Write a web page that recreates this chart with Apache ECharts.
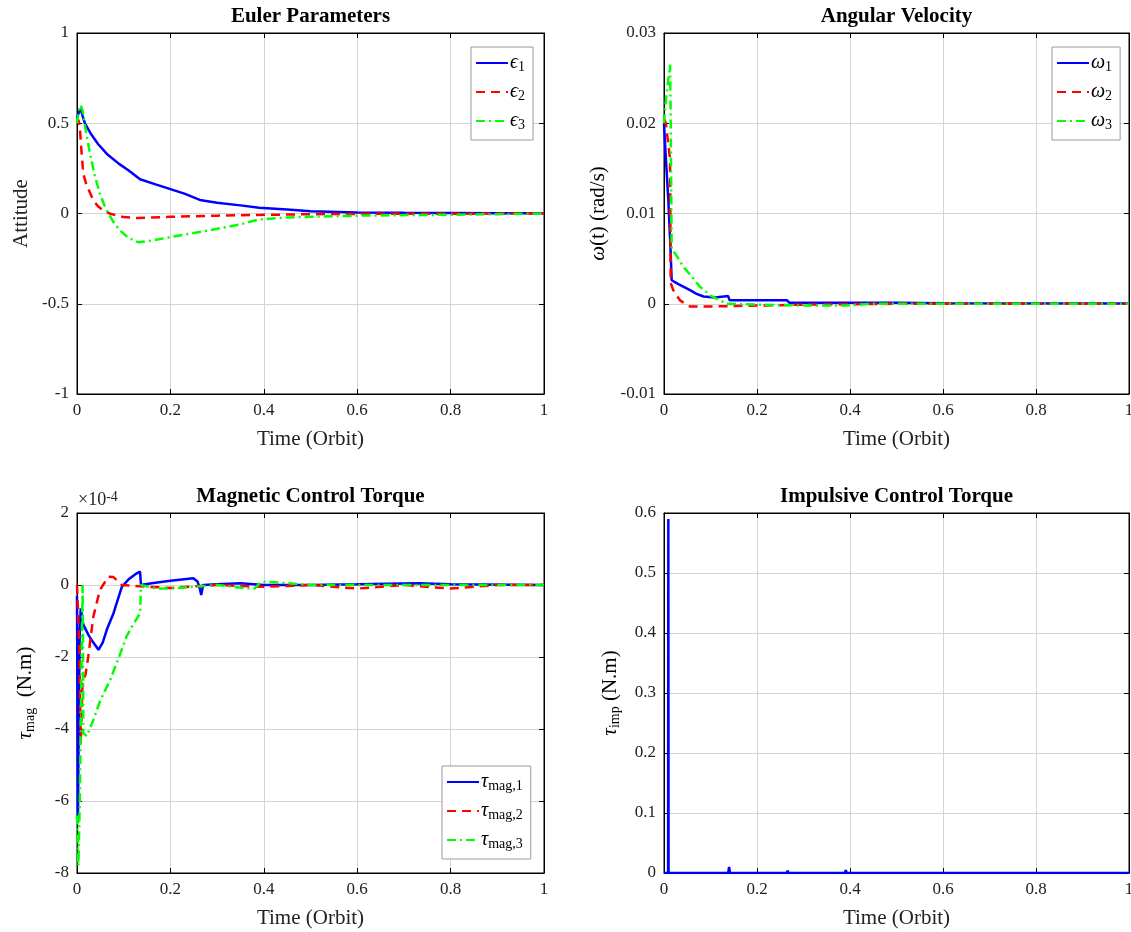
<!DOCTYPE html>
<html>
<head>
<meta charset="utf-8">
<script src="https://cdn.jsdelivr.net/npm/echarts@6/dist/echarts.min.js"></script>
<style>
  html, body { margin: 0; padding: 0; background: #fff; }
  #main { width: 1131px; height: 932px; }
</style>
</head>
<body>
<div id="main"></div>
<script>
// ---- data: [time (orbit), value] ----
var eps1 = [[0,0.53],[0.004,0.56],[0.008,0.58],[0.012,0.54],[0.017,0.5],[0.03,0.44],[0.045,0.385],[0.064,0.33],[0.09,0.275],[0.11,0.24],[0.135,0.19],[0.17,0.16],[0.2,0.135],[0.23,0.11],[0.263,0.075],[0.3,0.06],[0.35,0.045],[0.39,0.032],[0.45,0.022],[0.5,0.013],[0.6,0.006],[0.7,0.004],[0.8,0.003],[0.9,0.002],[1,0.001]];
var eps2 = [[0,0.5],[0.003,0.52],[0.006,0.48],[0.01,0.33],[0.0135,0.22],[0.02,0.16],[0.035,0.072],[0.045,0.04],[0.056,0.017],[0.07,0],[0.085,-0.011],[0.1,-0.02],[0.128,-0.025],[0.16,-0.022],[0.2,-0.018],[0.3,-0.012],[0.39,-0.008],[0.5,-0.004],[0.6,-0.002],[0.8,-0.001],[1,0]];
var eps3 = [[0,0.5],[0.004,0.57],[0.008,0.6],[0.012,0.57],[0.018,0.47],[0.028,0.33],[0.038,0.21],[0.049,0.11],[0.058,0.05],[0.067,0],[0.08,-0.055],[0.092,-0.094],[0.11,-0.135],[0.131,-0.159],[0.16,-0.15],[0.2,-0.131],[0.25,-0.108],[0.3,-0.085],[0.35,-0.06],[0.39,-0.033],[0.45,-0.022],[0.5,-0.018],[0.6,-0.012],[0.7,-0.009],[0.8,-0.007],[0.9,-0.004],[1,0]];

var omega1 = [[0,0.02],[0.003,0.017],[0.0093,0.0115],[0.0144,0.0056],[0.0165,0.0026],[0.03,0.0022],[0.056,0.0015],[0.07,0.0011],[0.085,0.0008],[0.11,0.0007],[0.138,0.00085],[0.141,0.0004],[0.2,0.0004],[0.264,0.0004],[0.27,0.0001],[0.4,0.0001],[0.5,0.0001],[0.6,0.00005],[1,0.00002]];
var omega2 = [[0,0.0205],[0.004,0.02],[0.013,0.016],[0.0144,0.0023],[0.02,0.0015],[0.034,0.0004],[0.045,0],[0.056,-0.0003],[0.1,-0.0003],[0.2,-0.0002],[0.3,-0.0001],[0.5,0],[1,0]];
var omega3 = [[0,0.02],[0.003,0.022],[0.009,0.0248],[0.013,0.0265],[0.0145,0.02],[0.0165,0.006],[0.025,0.0055],[0.0415,0.0041],[0.06,0.003],[0.077,0.0019],[0.1,0.0009],[0.135,0],[0.2,-0.0001],[0.3,-0.0002],[0.39,-0.0002],[0.45,0],[1,0]];

// magnetic torque in units of 1e-4 N.m
var tauMag1 = [[0,-0.3],[0.002,-6.6],[0.004,-3.5],[0.006,-1.2],[0.008,-0.65],[0.0135,-1.1],[0.025,-1.4],[0.035,-1.6],[0.046,-1.8],[0.055,-1.6],[0.065,-1.2],[0.078,-0.79],[0.096,-0.05],[0.11,0.15],[0.125,0.3],[0.135,0.37],[0.137,0],[0.16,0.05],[0.2,0.12],[0.249,0.19],[0.258,0.1],[0.263,-0.1],[0.266,-0.28],[0.27,0],[0.3,0.02],[0.35,0.05],[0.4,0],[0.5,0],[0.6,0.02],[0.73,0.05],[0.8,0.02],[1,0]];
var tauMag2 = [[0,0],[0.005,-1.7],[0.008,-4.4],[0.012,-2.64],[0.018,-2.5],[0.024,-2.0],[0.035,-0.88],[0.049,-0.14],[0.067,0.23],[0.078,0.22],[0.096,0],[0.15,-0.05],[0.2,-0.08],[0.3,0],[0.4,-0.05],[0.5,0],[0.6,-0.1],[0.7,0],[0.8,-0.1],[0.9,0],[1,0]];
var tauMag3 = [[0,-6.4],[0.003,-7.8],[0.006,-6],[0.009,-3],[0.012,0],[0.013,-2],[0.0135,-4.12],[0.021,-4.2],[0.035,-3.75],[0.05,-3.2],[0.071,-2.64],[0.09,-2.0],[0.106,-1.43],[0.12,-1.1],[0.135,-0.79],[0.137,0],[0.17,-0.1],[0.2,-0.1],[0.25,-0.05],[0.3,0],[0.37,-0.1],[0.38,-0.1],[0.395,0.1],[0.45,0.05],[0.5,0],[0.7,0],[1,0]];

var tauImp = [[0,0],[0.0088,0],[0.0093,0.59],[0.0098,0],[0.138,0],[0.14,0.01],[0.142,0],[0.264,0],[0.266,0.004],[0.268,0],[0.389,0],[0.391,0.005],[0.393,0],[1,0]];

var panelTitles = ['Euler Parameters', 'Angular Velocity', 'Magnetic Control Torque', 'Impulsive Control Torque'];
var yRanges = [[-1, 1, 0.5], [-0.01, 0.03, 0.01], [-8, 2, 2], [0, 0.6, 0.1]];

var FONT = '"Liberation Serif", "Times New Roman", serif';
var grids = [
  {left: 77, top: 33, width: 467, height: 361},
  {left: 664, top: 33, width: 465, height: 361},
  {left: 77, top: 513, width: 467, height: 360},
  {left: 664, top: 513, width: 465, height: 360}
];

var myChart = echarts.init(document.getElementById('main'));

var subRich = {
  g: {fontFamily: FONT, fontSize: 21, fontStyle: 'italic', color: '#000', lineHeight: 24},
  s: {fontFamily: FONT, fontSize: 14, color: '#000', lineHeight: 12, verticalAlign: 'bottom'},
  n: {fontFamily: FONT, fontSize: 21, color: '#000'}
};
var legRich = {
  g: {fontFamily: FONT, fontSize: 20, fontStyle: 'italic', color: '#000', lineHeight: 22},
  s: {fontFamily: FONT, fontSize: 14, color: '#000', lineHeight: 10, verticalAlign: 'bottom'}
};

var legendLabels = {
  e1: '{g|ϵ}{s|1}', e2: '{g|ϵ}{s|2}', e3: '{g|ϵ}{s|3}',
  w1: '{g|ω}{s|1}', w2: '{g|ω}{s|2}', w3: '{g|ω}{s|3}',
  t1: '{g|τ}{s|mag,1}', t2: '{g|τ}{s|mag,2}', t3: '{g|τ}{s|mag,3}'
};

var xAxes = [], yAxes = [];
grids.forEach(function (g, i) {
  var r = yRanges[i];
  xAxes.push({
    type: 'value', gridIndex: i, min: 0, max: 1, interval: 0.2,
    name: 'Time (Orbit)', nameLocation: 'middle', nameGap: 35,
    nameTextStyle: {fontFamily: FONT, fontSize: 21, color: '#222'},
    axisLine: {show: true, onZero: false, lineStyle: {color: '#000', width: 1}},
    axisTick: {show: true, inside: true, length: 5, lineStyle: {color: '#000'}},
    axisLabel: {fontFamily: FONT, fontSize: 17, color: '#222', margin: 8},
    splitLine: {show: true, lineStyle: {color: '#d4d4d4', width: 1}}
  });
  xAxes.push({
    type: 'value', gridIndex: i, position: 'top', min: 0, max: 1, interval: 0.2,
    axisLine: {show: true, onZero: false, lineStyle: {color: '#000', width: 1}},
    axisTick: {show: true, inside: true, length: 5, lineStyle: {color: '#000'}},
    axisLabel: {show: false}, splitLine: {show: false}
  });
  yAxes.push({
    type: 'value', gridIndex: i, min: r[0], max: r[1], interval: r[2],
    nameLocation: 'middle',
    nameTextStyle: {fontFamily: FONT, fontSize: 21, color: '#222', rich: subRich},
    axisLine: {show: true, onZero: false, lineStyle: {color: '#000', width: 1}},
    axisTick: {show: true, inside: true, length: 5, lineStyle: {color: '#000'}},
    axisLabel: {fontFamily: FONT, fontSize: 17, color: '#222', margin: 8},
    splitLine: {show: true, lineStyle: {color: '#d4d4d4', width: 1}}
  });
  yAxes.push({
    type: 'value', gridIndex: i, position: 'right', min: r[0], max: r[1], interval: r[2],
    axisLine: {show: true, onZero: false, lineStyle: {color: '#000', width: 1}},
    axisTick: {show: true, inside: true, length: 5, lineStyle: {color: '#000'}},
    axisLabel: {show: false}, splitLine: {show: false}
  });
});
yAxes[0].name = 'Attitude'; yAxes[0].nameGap = 45;
yAxes[2].name = '{g|ω}{n|(t) (rad/s)}'; yAxes[2].nameGap = 54;
yAxes[4].name = '{g|τ}{s|mag}{n|  (N.m)}'; yAxes[4].nameGap = 40;
yAxes[6].name = '{g|τ}{s|imp}{n| (N.m)}'; yAxes[6].nameGap = 42;

var BLUE = '#0000ff', RED = '#ff0000', GREEN = '#00ff00';
function line(name, data, gi, color, type) {
  return {
    name: name, type: 'line', xAxisIndex: gi * 2, yAxisIndex: gi * 2,
    data: data, showSymbol: false, symbol: 'none', animation: false,
    lineStyle: {color: color, width: 2.5, type: type},
    itemStyle: {color: color}
  };
}
var DASH = [9, 6], DASHDOT = [9, 4, 2, 4];

function legendAt(names, left, top) {
  return {
    data: names, orient: 'vertical', left: left, top: top,
    backgroundColor: '#fff', borderColor: '#9a9a9a', borderWidth: 1,
    padding: [6, 8, 8, 4], itemGap: 8, itemWidth: 32, itemHeight: 12,
    selectedMode: false,
    itemStyle: {opacity: 0},
    formatter: function (n) { return legendLabels[n]; },
    textStyle: {rich: legRich, padding: [0, 0, 0, -3]}
  };
}

var option = {
  animation: false,
  grid: grids.map(function (g) {
    return Object.assign({show: true, borderColor: '#000', borderWidth: 1,
      backgroundColor: '#fff', outerBoundsMode: 'none', containLabel: false}, g);
  }),
  xAxis: xAxes,
  yAxis: yAxes,
  legend: [
    legendAt(['e1', 'e2', 'e3'], 471, 47),
    legendAt(['w1', 'w2', 'w3'], 1052, 47),
    legendAt(['t1', 't2', 't3'], 442, 766)
  ],
  graphic: panelTitles.map(function (t, i) {
    var g = grids[i];
    return {
      type: 'text', x: g.left + g.width / 2, y: g.top - 16,
      style: {text: t, textAlign: 'center', textVerticalAlign: 'middle',
              fontFamily: FONT, fontSize: 21, fontWeight: 'bold', fill: '#000'}
    };
  }).concat([{
    type: 'text', x: 78, y: 500,
    style: {text: '{a|×10}{b|-4}', textVerticalAlign: 'middle',
            rich: {a: {fontFamily: FONT, fontSize: 18, fill: '#222', lineHeight: 20},
                   b: {fontFamily: FONT, fontSize: 14, fill: '#222', verticalAlign: 'top', lineHeight: 12}}}
  }]),
  series: [
    line('e1', eps1, 0, BLUE, 'solid'),
    line('e2', eps2, 0, RED, DASH),
    line('e3', eps3, 0, GREEN, DASHDOT),
    line('w1', omega1, 1, BLUE, 'solid'),
    line('w2', omega2, 1, RED, DASH),
    line('w3', omega3, 1, GREEN, DASHDOT),
    line('t1', tauMag1, 2, BLUE, 'solid'),
    line('t2', tauMag2, 2, RED, DASH),
    line('t3', tauMag3, 2, GREEN, DASHDOT),
    line('imp', tauImp, 3, BLUE, 'solid')
  ]
};
myChart.setOption(option);
</script>
</body>
</html>
